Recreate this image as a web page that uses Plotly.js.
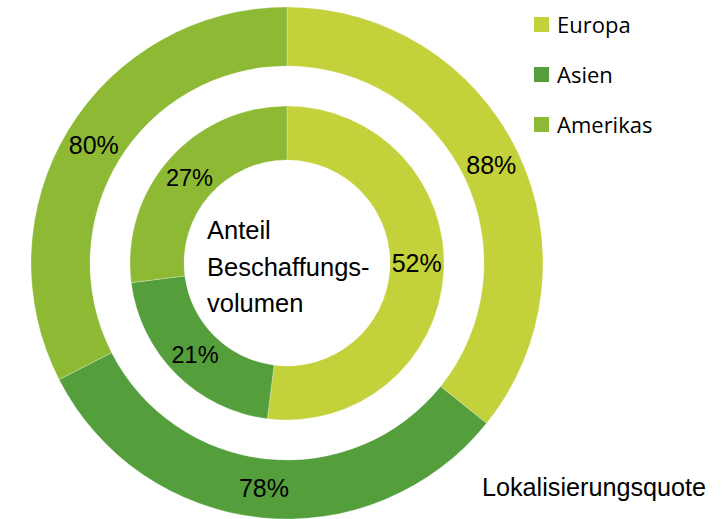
<!DOCTYPE html>
<html>
<head>
<meta charset="utf-8">
<script src="https://cdn.plot.ly/plotly-3.0.1.min.js"></script>
<style>html,body{margin:0;padding:0;background:#fff;}#chart{width:727px;height:519px;}</style>
</head>
<body>
<div id="chart"></div>
<script>
// ---- data ----
var regions = ["Europa", "Asien", "Amerikas"];
var shareProcurement = [52, 21, 27];      // inner ring: Anteil Beschaffungsvolumen (%)
var localizationRate = [88, 78, 80];      // outer ring: Lokalisierungsquote (%)
var regionColors = ["#c3d13b", "#549f3c", "#8db934"];
var centerLines = ["Anteil", "Beschaffungs-", "volumen"];
var outerLabel = "Lokalisierungsquote";

// ---- layout constants (pixels) ----
var W = 727, H = 519;
var cx = 287, cy = 263;
var rOuter = 256, rInner = 157;
function px(x){ return x / W; }
function py(y){ return 1 - y / H; }

function pct(arr){ return arr.map(function(v){ return v + "%"; }); }

var common = {
  type: "pie",
  labels: regions,
  sort: false,
  direction: "clockwise",
  rotation: 0,
  textinfo: "text",
  textposition: "inside",
  insidetextorientation: "horizontal",
  textfont: {family: "Liberation Sans, Arial, sans-serif", size: 25, color: "#000"},
  hoverinfo: "label+text",
  showlegend: false,
  marker: {colors: regionColors, line: {color: "rgba(255,255,255,0.5)", width: 0.5}}
};

var outer = Object.assign({}, common, {
  values: localizationRate,
  text: pct(localizationRate),
  hole: 197 / 256,
  domain: {x: [px(cx - rOuter), px(cx + rOuter)], y: [py(cy + rOuter), py(cy - rOuter)]}
});
var inner = Object.assign({}, common, {
  values: shareProcurement,
  text: pct(shareProcurement),
  hole: 103 / 157,
  domain: {x: [px(cx - rInner), px(cx + rInner)], y: [py(cy + rInner), py(cy - rInner)]}
});

var shapes = [], annotations = [];
// manual legend
var legX = 534, legY0 = 24.5, legGap = 50, sq = 15;
regions.forEach(function(r, i){
  var yc = legY0 + i * legGap;
  shapes.push({type: "rect", xref: "paper", yref: "paper",
    x0: px(legX), x1: px(legX + sq), y0: py(yc + sq/2), y1: py(yc - sq/2),
    fillcolor: regionColors[i], line: {width: 0}});
  annotations.push({xref: "paper", yref: "paper", x: px(555), y: py(yc),
    xanchor: "left", yanchor: "middle", showarrow: false, text: r,
    font: {family: "Open Sans, sans-serif", size: 22, color: "#000"}});
});
// centre text
var centerY = [230, 267, 303];
centerLines.forEach(function(t, i){
  annotations.push({xref: "paper", yref: "paper", x: px(205), y: py(centerY[i]),
    xanchor: "left", yanchor: "middle", showarrow: false, text: t,
    font: {family: "Liberation Sans, Arial, sans-serif", size: 25.5, color: "#000"}});
});
annotations.push({xref: "paper", yref: "paper", x: px(480), y: py(487),
  xanchor: "left", yanchor: "middle", showarrow: false, text: outerLabel,
  font: {family: "Liberation Sans, Arial, sans-serif", size: 25.2, color: "#000"}});

var layout = {
  width: W, height: H,
  margin: {l: 0, r: 0, t: 0, b: 0},
  paper_bgcolor: "#fff",
  showlegend: false,
  shapes: shapes,
  annotations: annotations
};

Plotly.newPlot("chart", [outer, inner], layout, {displayModeBar: false, staticPlot: true});
</script>
</body>
</html>
